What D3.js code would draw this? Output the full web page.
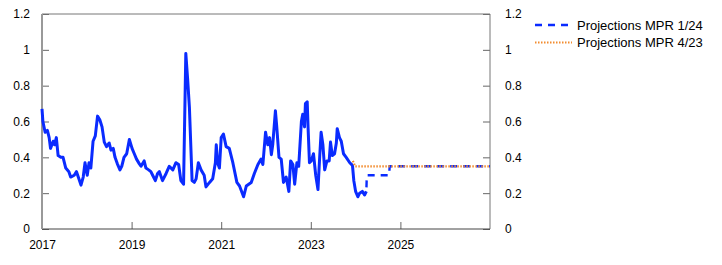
<!DOCTYPE html>
<html>
<head>
<meta charset="utf-8">
<script src="https://cdn.jsdelivr.net/npm/d3@7"></script>
<style>
  body { margin: 0; background: #fff; }
  text { font-family: "Liberation Sans", Arial, sans-serif; }
</style>
</head>
<body>
<div id="chart"></div>
<script>
// observed series, decimal years
const histYears = [
  2017.00, 2017.02, 2017.07, 2017.12, 2017.16, 2017.19, 2017.25, 2017.28, 2017.32, 2017.36,
  2017.42, 2017.47, 2017.53, 2017.60, 2017.64, 2017.72, 2017.77, 2017.81, 2017.87, 2017.92,
  2017.96, 2018.01, 2018.05, 2018.09, 2018.14, 2018.19, 2018.24, 2018.29, 2018.34, 2018.39,
  2018.44, 2018.50, 2018.54, 2018.59, 2018.63, 2018.68, 2018.74, 2018.78, 2018.83, 2018.89,
  2018.95, 2019.01, 2019.06, 2019.11, 2019.17, 2019.21, 2019.28, 2019.32, 2019.38, 2019.43,
  2019.47, 2019.53, 2019.58, 2019.62, 2019.69, 2019.77, 2019.84, 2019.92, 2019.99, 2020.05,
  2020.10, 2020.16, 2020.21, 2020.25, 2020.29, 2020.35, 2020.40, 2020.44, 2020.49, 2020.55,
  2020.62, 2020.66, 2020.74, 2020.81, 2020.87, 2020.89, 2020.92, 2020.96, 2021.00, 2021.05,
  2021.11, 2021.18, 2021.26, 2021.35, 2021.41, 2021.50, 2021.56, 2021.67, 2021.74, 2021.82,
  2021.89, 2021.93, 2021.99, 2022.04, 2022.08, 2022.12, 2022.15, 2022.21, 2022.24, 2022.29,
  2022.34, 2022.39, 2022.45, 2022.51, 2022.55, 2022.60, 2022.64, 2022.69, 2022.73, 2022.79,
  2022.82, 2022.86, 2022.88, 2022.92, 2022.94, 2022.97, 2023.01, 2023.06, 2023.11, 2023.16,
  2023.20, 2023.23, 2023.27, 2023.31, 2023.36, 2023.41, 2023.44, 2023.48, 2023.53, 2023.57,
  2023.59, 2023.64, 2023.68, 2023.73, 2023.79, 2023.87, 2023.93, 2023.96, 2024.00, 2024.05,
  2024.09, 2024.15, 2024.20, 2024.24
];
const histValues = [
  0.67, 0.60, 0.54, 0.55, 0.51, 0.45, 0.49, 0.47, 0.51, 0.41,
  0.40, 0.40, 0.34, 0.32, 0.29, 0.30, 0.32, 0.29, 0.245, 0.29,
  0.37, 0.30, 0.37, 0.34, 0.49, 0.52, 0.63, 0.61, 0.57, 0.485,
  0.46, 0.48, 0.44, 0.45, 0.40, 0.365, 0.33, 0.35, 0.40, 0.42,
  0.50, 0.45, 0.42, 0.39, 0.365, 0.35, 0.38, 0.34, 0.33, 0.32,
  0.30, 0.27, 0.31, 0.32, 0.27, 0.31, 0.35, 0.33, 0.37, 0.36,
  0.27, 0.25, 0.98, 0.84, 0.68, 0.27, 0.26, 0.28, 0.37, 0.33,
  0.30, 0.235, 0.26, 0.28, 0.37, 0.47, 0.37, 0.34, 0.51, 0.53,
  0.46, 0.45, 0.37, 0.26, 0.24, 0.18, 0.24, 0.26, 0.31, 0.36,
  0.39, 0.36, 0.54, 0.47, 0.51, 0.415, 0.47, 0.66, 0.57, 0.40,
  0.39, 0.26, 0.29, 0.21, 0.38, 0.36, 0.25, 0.37, 0.35, 0.60,
  0.64, 0.57, 0.70, 0.71, 0.56, 0.37, 0.38, 0.42, 0.30, 0.22,
  0.41, 0.54, 0.47, 0.33, 0.38, 0.38, 0.485, 0.41, 0.42, 0.48,
  0.56, 0.51, 0.49, 0.42, 0.40, 0.37, 0.355, 0.27, 0.21, 0.18,
  0.20, 0.21, 0.19, 0.21
];

// projections
const projNewYears = [2024.24, 2024.25, 2024.75, 2024.76, 2027.0];
const projNewValues = [0.21, 0.30, 0.30, 0.35, 0.35];
const projOldYears = [2023.94, 2023.99, 2027.0];
const projOldValues = [0.38, 0.35, 0.35];

const xTicks = [2017, 2019, 2021, 2023, 2025];
const yTicks = [0, 0.2, 0.4, 0.6, 0.8, 1, 1.2];
const legendLabels = ["Projections MPR 1/24", "Projections MPR 4/23"];

const margin = { top: 14, right: 232, bottom: 36, left: 42 };
const width = 722 - margin.left - margin.right;
const height = 265 - margin.top - margin.bottom;

const blue = "#0a2bff";
const orange = "#f28c2f";

const svg = d3.select("#chart")
  .append("svg")
    .attr("width", 722)
    .attr("height", 265)
  .append("g")
    .attr("transform", `translate(${margin.left},${margin.top})`);

const x = d3.scaleLinear()
  .domain([2017, 2027])
  .range([0, width]);

const y = d3.scaleLinear()
  .domain([0, 1.2])
  .range([height, 0]);

const yFormat = d3.format("~g");

// axes with inward ticks
const xAxisG = svg.append("g")
  .attr("transform", `translate(0,${height})`)
  .call(d3.axisBottom(x).tickValues(xTicks).tickFormat(d3.format("d")).tickSize(-7).tickPadding(11));

const yAxisL = svg.append("g")
  .call(d3.axisLeft(y).tickValues(yTicks).tickFormat(yFormat).tickSize(-7).tickPadding(12));

const yAxisR = svg.append("g")
  .attr("transform", `translate(${width},0)`)
  .call(d3.axisRight(y).tickValues(yTicks).tickFormat(yFormat).tickSize(-7).tickPadding(15));

[xAxisG, yAxisL, yAxisR].forEach(g => {
  g.select(".domain").remove();
  g.selectAll(".tick line").attr("stroke", "#666");
  g.selectAll(".tick text")
    .attr("fill", "#000")
    .style("font-size", "12px")
    .style("font-family", '"Liberation Sans", Arial, sans-serif');
});

// frame
svg.append("line").attr("x1", 0).attr("x2", width).attr("y1", 0).attr("y2", 0)
  .attr("stroke", "#777").attr("stroke-width", 1);
svg.append("line").attr("x1", width).attr("x2", width).attr("y1", 0).attr("y2", height)
  .attr("stroke", "#777").attr("stroke-width", 1);
svg.append("line").attr("x1", 0).attr("x2", width).attr("y1", height).attr("y2", height)
  .attr("stroke", "#444").attr("stroke-width", 1);
svg.append("line").attr("x1", 0).attr("x2", 0).attr("y1", 0).attr("y2", height)
  .attr("stroke", "#999").attr("stroke-width", 2);

const line = d3.line()
  .x(d => x(d[0]))
  .y(d => y(d[1]));

const hist = histYears.map((t, i) => [t, histValues[i]]);
const projNew = projNewYears.map((t, i) => [t, projNewValues[i]]);
const projOld = projOldYears.map((t, i) => [t, projOldValues[i]]);

svg.append("path")
  .datum(hist)
  .attr("fill", "none")
  .attr("stroke", blue)
  .attr("stroke-width", 3)
  .attr("stroke-linejoin", "round")
  .attr("d", line);

svg.append("path")
  .datum(projNew)
  .attr("fill", "none")
  .attr("stroke", blue)
  .attr("stroke-width", 2.4)
  .attr("stroke-dasharray", "7,6")
  .attr("stroke-dashoffset", 9)
  .attr("d", line);

svg.append("path")
  .datum(projOld)
  .attr("fill", "none")
  .attr("stroke", orange)
  .attr("stroke-width", 2.2)
  .attr("stroke-dasharray", "1.5,1.5")
  .attr("d", line);

// legend
const legend = svg.append("g")
  .attr("transform", `translate(${width + 45}, 11)`);

legendLabels.forEach((label, i) => {
  const row = legend.append("g")
    .attr("transform", `translate(0, ${i * 17.5})`);

  row.append("line")
    .attr("x1", 0)
    .attr("x2", 37)
    .attr("stroke", i === 0 ? blue : orange)
    .attr("stroke-width", i === 0 ? 2.4 : 2.2)
    .attr("stroke-dasharray", i === 0 ? "7,6" : "1.5,1.5");

  row.append("text")
    .attr("x", 42)
    .attr("y", 4.5)
    .style("font-size", "13px")
    .text(label);
});
</script>
</body>
</html>
